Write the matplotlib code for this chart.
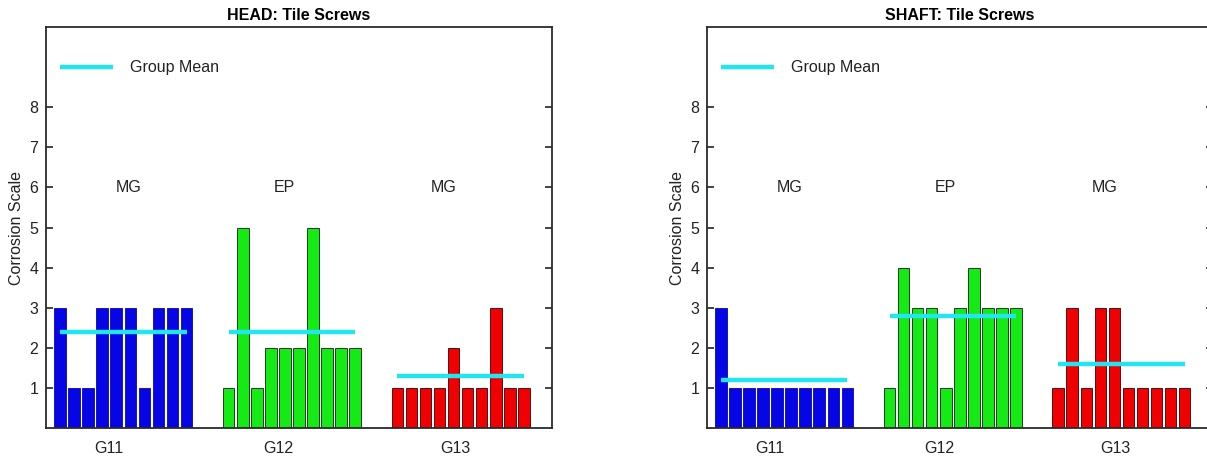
import matplotlib.pyplot as plt
import numpy as np

plt.rcParams['font.family'] = ['Liberation Sans', 'DejaVu Sans']

groups = ['G11', 'G12', 'G13']
coatings = ['MG', 'EP', 'MG']

head_g11 = [3, 1, 1, 3, 3, 3, 1, 3, 3, 3]
head_g12 = [1, 5, 1, 2, 2, 2, 5, 2, 2, 2]
head_g13 = [1, 1, 1, 1, 2, 1, 1, 3, 1, 1]

shaft_g11 = [3, 1, 1, 1, 1, 1, 1, 1, 1, 1]
shaft_g12 = [1, 4, 3, 3, 1, 3, 4, 3, 3, 3]
shaft_g13 = [1, 3, 1, 3, 3, 1, 1, 1, 1, 1]

bar_colors = ['#0505E6', '#14EB14', '#F00000']
edge_colors = ['#0505B0', '#1a1a1a', '#3a0000']
mean_color = '#22E5EF'

group_start = [1, 13, 25]          # first bar of each group
group_label_x = [4.5, 16.55, 29.1]
coating_label_x = [5.9, 16.95, 28.3]

FS = 11.5


def draw_panel(ax, data, title):
    mean_line = None
    for g in range(len(groups)):
        x = group_start[g] + np.arange(len(data[g]))
        ax.bar(x, data[g], width=0.82, color=bar_colors[g],
               edgecolor=edge_colors[g], linewidth=0.6, zorder=2)
        m = np.mean(data[g])
        mean_line, = ax.plot([x[0], x[-1]], [m, m], color=mean_color,
                             linewidth=3.2, solid_capstyle='butt', zorder=3,
                             label='Group Mean')
        ax.text(coating_label_x[g], 6, coatings[g], ha='center', va='center',
                fontsize=FS, color='#222222')

    ax.set_xlim(0, 36)
    ax.set_ylim(0, 10)
    ax.set_yticks(range(1, 9))
    ax.set_xticks(group_label_x)
    ax.set_xticklabels(groups)
    ax.tick_params(axis='y', direction='in', length=5, width=1.2,
                   left=True, right=True, labelsize=FS, pad=5.5,
                   colors='#222222')
    ax.tick_params(axis='x', length=0, labelsize=FS, pad=9.5,
                   colors='#222222')
    for s in ax.spines.values():
        s.set_linewidth(1.3)
        s.set_color('#2a2a2a')
    ax.set_ylabel('Corrosion Scale', fontsize=FS, labelpad=4, color='#222222')
    ax.set_title(title, fontsize=FS, fontweight='bold', pad=5)
    ax.legend(handles=[mean_line], loc='center left',
              bbox_to_anchor=(0.028, 0.898), frameon=False, borderpad=0,
              borderaxespad=0, handlelength=3.3, handletextpad=1.1,
              fontsize=FS, labelcolor='#222222')


fig = plt.figure(figsize=(12.07, 4.59), dpi=100)
ax1 = fig.add_axes([0.0381, 0.0675, 0.4192, 0.8736])
ax2 = fig.add_axes([0.5856, 0.0675, 0.4192, 0.8736])

draw_panel(ax1, [head_g11, head_g12, head_g13], 'HEAD: Tile Screws')
draw_panel(ax2, [shaft_g11, shaft_g12, shaft_g13], 'SHAFT: Tile Screws')

fig.savefig('out.png', dpi=100)
